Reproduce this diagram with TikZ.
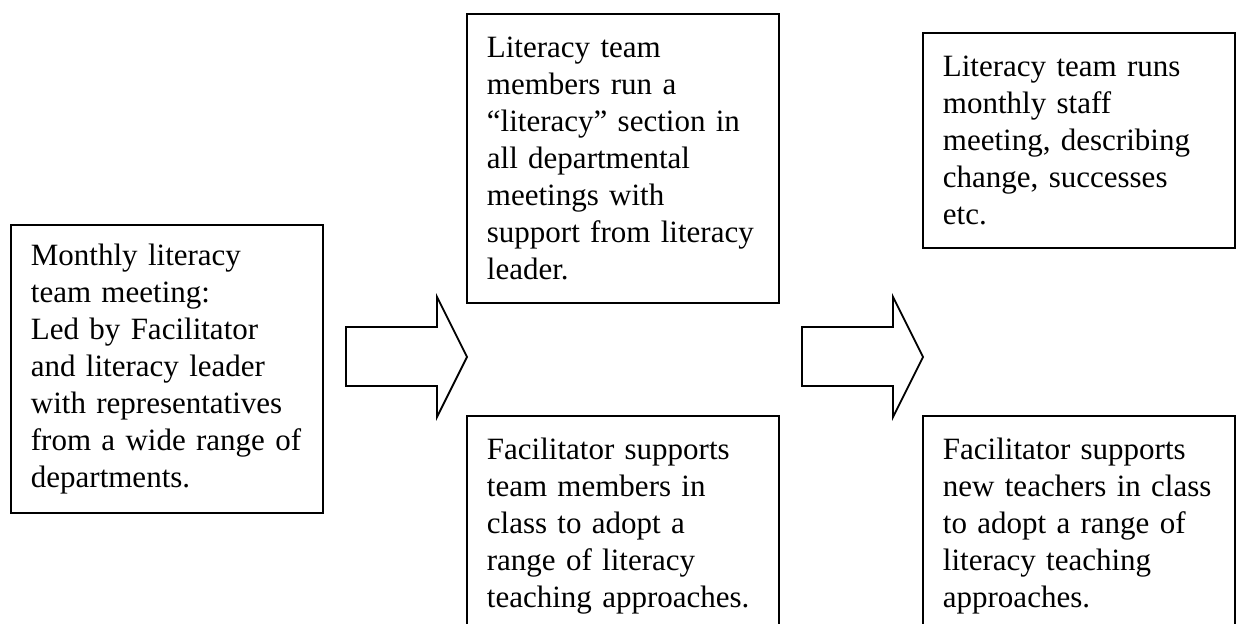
\documentclass[tikz,border=0pt]{standalone}
\usepackage{fontspec}
\setmainfont{Liberation Serif}
\usetikzlibrary{positioning}

\begin{document}
\begin{tikzpicture} [
    x=0.5pt, y=-0.5pt,
    line width=0.9pt,
  ]

  \tikzstyle{stagebox} = [
    draw=black,
    anchor=north west,
    inner xsep=10pt,
    text width=136pt,
    minimum width=156pt,
    align=left,
    font=\fontsize{15.5}{18.5}\selectfont,
  ]
  \tikzstyle{bigarrow} = [
    draw=black,
    fill=white,
    line join=miter,
  ]

  \useasboundingbox (0,0) rectangle (1237,624);

  \node[stagebox,minimum height=144pt]   (meet)    at (10,224)  {Monthly literacy\\team meeting:\\Led by Facilitator\\and literacy leader\\with representatives\\from a wide range of\\departments.};
  \node[stagebox,minimum height=144.5pt] (deptrun) at (466,13)  {Literacy team\\members run a\\“literacy” section in\\all departmental\\meetings with\\support from literacy\\leader.};
  \node[stagebox,minimum height=110pt]   (teamsup) at (466,415) {Facilitator supports\\team members in\\class to adopt a\\range of literacy\\teaching approaches.};
  \node[stagebox,minimum height=107.5pt] (staff)   at (922,32)  {Literacy team runs\\monthly staff\\meeting, describing\\change, successes\\etc.};
  \node[stagebox,minimum height=110pt]   (newsup)  at (922,415) {Facilitator supports\\new teachers in class\\to adopt a range of\\literacy teaching\\approaches.};

  % block arrows between the stages
  \draw[bigarrow] (346,327) -- (437,327) -- (437,297) -- (467,357)
                  -- (437,417) -- (437,386) -- (346,386) -- cycle;
  \draw[bigarrow] (802,327) -- (893,327) -- (893,297) -- (923,357)
                  -- (893,417) -- (893,386) -- (802,386) -- cycle;

\end{tikzpicture}
\end{document}
